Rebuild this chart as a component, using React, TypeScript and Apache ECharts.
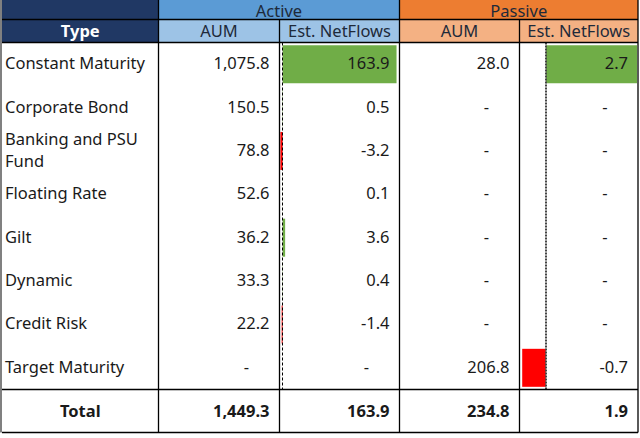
import React, { useEffect, useRef } from "react";
import * as echarts from "echarts";

const types = [
  "Constant Maturity",
  "Corporate Bond",
  "Banking and PSU\nFund",
  "Floating Rate",
  "Gilt",
  "Dynamic",
  "Credit Risk",
  "Target Maturity",
];
const activeAUM: (number | null)[] = [1075.8, 150.5, 78.8, 52.6, 36.2, 33.3, 22.2, null];
const activeNF: (number | null)[] = [163.9, 0.5, -3.2, 0.1, 3.6, 0.4, -1.4, null];
const passiveAUM: (number | null)[] = [28.0, null, null, null, null, null, null, 206.8];
const passiveNF: (number | null)[] = [2.7, null, null, null, null, null, null, -0.7];
const totalLabel = "Total";
const totalValues = [1449.3, 163.9, 234.8, 1.9];
const groupHeaders = ["Active", "Passive"];
const subHeaders = ["AUM", "Est. NetFlows", "AUM", "Est. NetFlows"];
const typeHeader = "Type";

const FONT = '"Noto Sans", sans-serif';
const FS = 16.5;
const colX = [2, 158.5, 279.5, 399.5, 519.5, 638];
const H1 = 19.5;
const H2 = 42.5;
const DATA_BOTTOM = 389.5;
const BOTTOM = 432.5;
const rowH = (DATA_BOTTOM - H2) / types.length;

const fmt = (v: number | null) =>
  v === null
    ? "-"
    : v.toLocaleString("en-US", { minimumFractionDigits: 1, maximumFractionDigits: 1 });

const GREEN = "#70AD47";
const RED = "#FF0000";

function buildGraphic() {
  const els: any[] = [];
  const txt = (x: number, y: number, text: string, align: string, opts: any = {}) => ({
    type: "text",
    x,
    y,
    z: 20,
    style: {
      text,
      fill: opts.fill || "#1a1a1a",
      font: `${opts.bold ? "bold " : ""}${opts.size || FS}px ${FONT}`,
      align,
      textAlign: align,
      verticalAlign: "middle",
      textVerticalAlign: "middle",
      lineHeight: opts.lineHeight || 20,
    },
  });
  const rect = (x: number, y: number, w: number, h: number, fill: string) => ({
    type: "rect",
    z: 1,
    shape: { x, y, width: w, height: h },
    style: { fill },
  });
  const line = (x1: number, y1: number, x2: number, y2: number, stroke = "#000", w = 1.3) => ({
    type: "line",
    z: 15,
    shape: { x1, y1, x2, y2 },
    style: { stroke, lineWidth: w },
  });

  // header backgrounds
  els.push(rect(colX[0], 0, colX[1] - colX[0], H2, "#203864"));
  els.push(rect(colX[1], 0, colX[3] - colX[1], H1, "#5B9BD5"));
  els.push(rect(colX[3], 0, colX[5] - colX[3], H1, "#ED7D31"));
  els.push(rect(colX[1], H1, colX[3] - colX[1], H2 - H1, "#9DC3E6"));
  els.push(rect(colX[3], H1, colX[5] - colX[3], H2 - H1, "#F4B183"));

  // header texts
  els.push(txt((colX[0] + colX[1]) / 2, (H1 + H2) / 2 - 0.5, typeHeader, "center", { bold: true, fill: "#ffffff", lineHeight: 18 }));
  els.push(txt((colX[1] + colX[3]) / 2, 10, groupHeaders[0], "center", { fill: "#1e2a3a", lineHeight: 18 }));
  els.push(txt((colX[3] + colX[5]) / 2, 10, groupHeaders[1], "center", { fill: "#1e2a3a", lineHeight: 18 }));
  subHeaders.forEach((s, i) => {
    els.push(txt((colX[i + 1] + colX[i + 2]) / 2, (H1 + H2) / 2 - 0.5, s, "center", { fill: "#1e2a3a", lineHeight: 18 }));
  });

  // data rows
  const cols = [activeAUM, activeNF, passiveAUM, passiveNF];
  types.forEach((t, r) => {
    const cy = H2 + rowH * (r + 0.5) - 1.5;
    els.push(txt(5, cy, t, "left", { lineHeight: 22 }));
    cols.forEach((c, ci) => {
      const v = c[r];
      const isDash = v === null;
      els.push(txt(colX[ci + 2] - (isDash ? 33 : 10), cy, fmt(v), isDash ? "center" : "right"));
    });
  });

  // total row
  const ty = (DATA_BOTTOM + BOTTOM) / 2 - 1;
  els.push(txt((colX[0] + colX[1]) / 2, ty, totalLabel, "center", { bold: true }));
  totalValues.forEach((v, i) => {
    els.push(txt(colX[i + 2] - 10, ty, fmt(v), "right", { bold: true }));
  });

  // grid lines
  els.push(line(1, 0, 1, BOTTOM, "#808080", 2));
  els.push(line(colX[0], H1, colX[5], H1, "#000", 1.3));
  els.push(line(colX[0], H2, colX[5], H2, "#000", 1.3));
  els.push(line(colX[0], DATA_BOTTOM, colX[5], DATA_BOTTOM, "#000", 1.3));
  els.push(line(colX[0], BOTTOM, colX[5], BOTTOM, "#000", 1.3));
  [1, 3, 5].forEach((i) => els.push(line(colX[i], 0, colX[i], BOTTOM)));
  [2, 4].forEach((i) => els.push(line(colX[i], H1, colX[i], BOTTOM)));
  return els;
}

function barData(vals: (number | null)[]) {
  return vals.map((v) =>
    v === null ? "-" : { value: v, itemStyle: { color: v >= 0 ? GREEN : RED } }
  );
}

export default function App() {
  const ref = useRef<HTMLDivElement>(null);
  useEffect(() => {
    if (!ref.current) return;
    const chart = echarts.init(ref.current, null, { renderer: "svg" });
    const gridTop = H2;
    const gridH = DATA_BOTTOM - H2;
    const mkY = (gi: number) => ({
      type: "category",
      gridIndex: gi,
      data: types,
      inverse: true,
      show: false,
    });
    const mkX = (gi: number, min: number, max: number) => ({
      type: "value",
      gridIndex: gi,
      min,
      max,
      show: false,
      splitLine: { show: false },
    });
    chart.setOption({
      animation: false,
      grid: [
        { left: colX[2], width: colX[3] - colX[2] - 1.5, top: gridTop, height: gridH },
        { left: colX[4], width: colX[5] - colX[4] - 1, top: gridTop, height: gridH },
      ],
      xAxis: [mkX(0, -4.5, 166), mkX(1, -0.78, 2.7)],
      yAxis: [mkY(0), mkY(1)],
      series: [
        {
          type: "bar",
          xAxisIndex: 0,
          yAxisIndex: 0,
          data: barData(activeNF),
          barWidth: 38,
          markLine: {
            symbol: "none",
            silent: true,
            label: { show: false },
            lineStyle: { color: "#000", type: [3, 2], width: 1 },
            data: [{ xAxis: 0 }],
          },
        },
        {
          type: "bar",
          xAxisIndex: 1,
          yAxisIndex: 1,
          data: barData(passiveNF),
          barWidth: 38,
          markLine: {
            symbol: "none",
            silent: true,
            label: { show: false },
            lineStyle: { color: "#444", type: [2, 1], width: 2 },
            data: [{ xAxis: 0 }],
          },
        },
      ],
      graphic: { elements: buildGraphic() },
    });
    return () => chart.dispose();
  }, []);
  return (
    <div
      ref={ref}
      style={{ position: "fixed", left: 0, top: 0, width: 640, height: 438, background: "#fff" }}
    />
  );
}
